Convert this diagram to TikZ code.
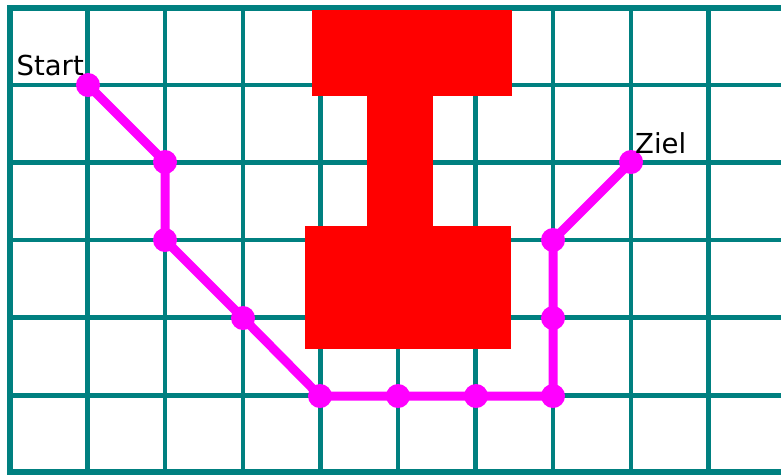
\documentclass[tikz,border=0pt]{standalone}
\usepackage{fontspec}
\setmainfont{DejaVu Sans}
\definecolor{gridteal}{HTML}{008080}
\definecolor{pathmag}{HTML}{FF00FF}
\definecolor{blockred}{HTML}{FF0000}
\begin{document}
\begin{tikzpicture}[x=1pt,y=-1pt,
  gridline/.style={draw=gridteal,line width=4.5pt},
  borderline/.style={draw=gridteal,line width=6pt},
  block/.style={fill=blockred},
  route/.style={draw=pathmag,line width=9pt,line join=round},
  dot/.style={fill=pathmag},
  lbl/.style={font=\fontsize{27.5}{27.5}\selectfont,inner sep=0pt}]
\useasboundingbox (0,0) rectangle (781,475);
% grid
\foreach \k in {1,...,9}{
  \draw[gridline] ({10+77.6*\k},7.5) -- ({10+77.6*\k},472);
}
\foreach \y in {85,162.5,240,317.5,395.5}{
  \draw[gridline] (10,\y) -- (781,\y);
}
\draw[borderline] (790,7.5) -- (10,7.5) -- (10,472) -- (790,472);
% obstacle
\fill[block] (312,10) rectangle (512,96);
\fill[block] (367,95) rectangle (433,227);
\fill[block] (305,226) rectangle (511,349);
% path points
\coordinate (p1) at (88,85);
\coordinate (p2) at (165,162);
\coordinate (p3) at (165,240);
\coordinate (p4) at (243,318);
\coordinate (p5) at (320,396);
\coordinate (p6) at (398,396);
\coordinate (p7) at (476,396);
\coordinate (p8) at (553,396);
\coordinate (p9) at (553,318);
\coordinate (p10) at (553,240);
\coordinate (p11) at (631,162);
\draw[route] (p1) -- (p2) -- (p3) -- (p4) -- (p5) -- (p6) -- (p7) -- (p8) -- (p9) -- (p10) -- (p11);
\foreach \p in {p1,p2,p3,p4,p5,p6,p7,p8,p9,p10,p11}{
  \fill[dot] (\p) circle (12);
}
\node[lbl,anchor=base east] (start) at (84,75) {Start};
\node[lbl,anchor=base west] (ziel) at (635,153) {Ziel};
\end{tikzpicture}
\end{document}
